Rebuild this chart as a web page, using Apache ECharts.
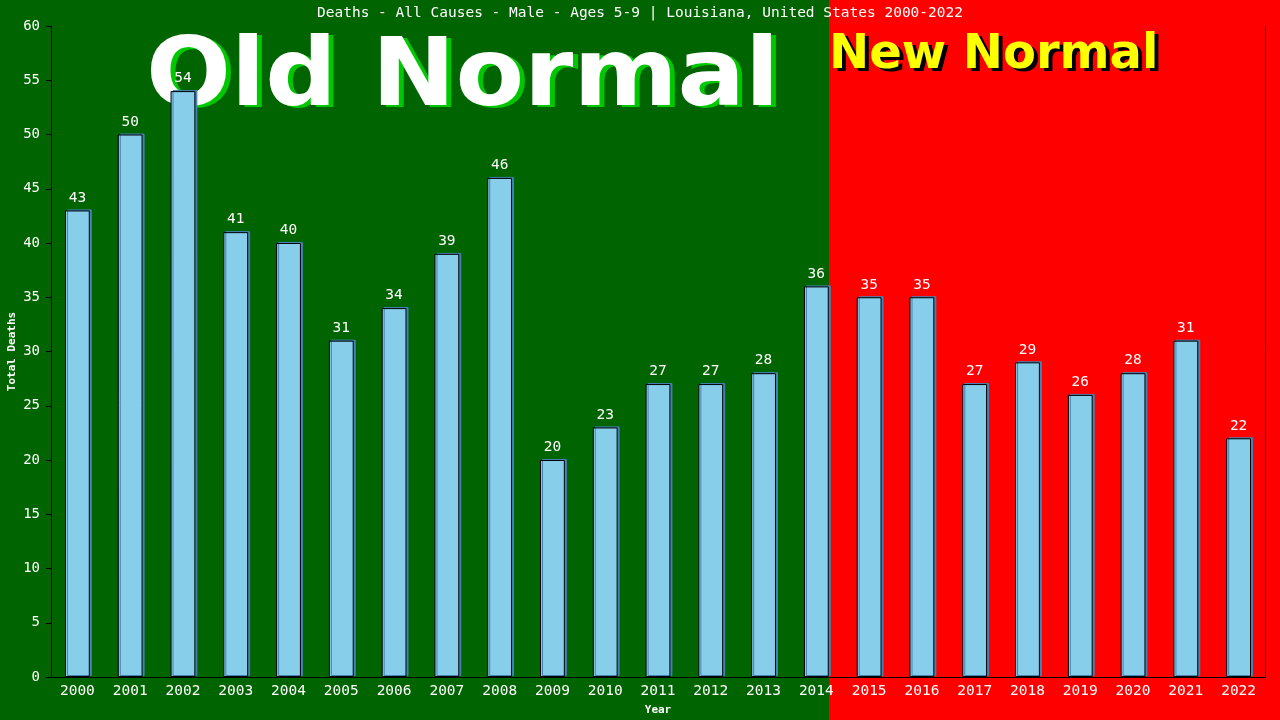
<!DOCTYPE html>
<html lang="en">
<head>
    <meta charset="utf-8">
    <title>Deaths - Louisiana</title>
    <script src="https://cdn.jsdelivr.net/npm/echarts@6/dist/echarts.min.js"></script>
    <style>
        html, body {margin: 0; padding: 0; background: #006400;}
        #main {width: 1280px; height: 720px;}
    </style>
</head>
<body>
<div id="main"></div>
<script type="text/javascript">
    // data
    var years = ['2000', '2001', '2002', '2003', '2004', '2005', '2006', '2007', '2008', '2009', '2010', '2011',
        '2012', '2013', '2014', '2015', '2016', '2017', '2018', '2019', '2020', '2021', '2022'];
    var deaths = [43, 50, 54, 41, 40, 31, 34, 39, 46, 20, 23, 27, 27, 28, 36, 35, 35, 27, 29, 26, 28, 31, 22];
    var lastOldYear = '2014';

    var mono = '"DejaVu Sans Mono", monospace';
    var myChart = echarts.init(document.getElementById('main'));

    var option = {
        animation: false,
        backgroundColor: '#006400',
        title: {
            text: 'Deaths - All Causes - Male - Ages 5-9 | Louisiana, United States 2000-2022',
            left: 'center', top: 1,
            textStyle: {color: '#fff', fontFamily: mono, fontSize: 14.5, fontWeight: 'normal'}
        },
        grid: {left: 51, right: 15, top: 26, bottom: 43, outerBoundsMode: 'none', containLabel: false},
        xAxis: {
            type: 'category',
            data: years,
            name: 'Year',
            nameLocation: 'middle',
            nameGap: 28,
            nameTextStyle: {color: '#fff', fontFamily: mono, fontSize: 11, fontWeight: 'bold'},
            axisLine: {lineStyle: {color: '#000', width: 1}},
            axisTick: {show: false},
            axisLabel: {color: '#fff', fontFamily: mono, fontSize: 14.5, margin: 7}
        },
        yAxis: [
            {
                type: 'value',
                min: 0, max: 60, interval: 5,
                name: 'Total Deaths',
                nameLocation: 'middle',
                nameGap: 33,
                nameMoveOverlap: false,
                nameTextStyle: {color: '#fff', fontFamily: mono, fontSize: 11, fontWeight: 'bold'},
                axisLine: {show: true, lineStyle: {color: '#000', width: 1}},
                axisTick: {show: true, length: 5, lineStyle: {color: '#000'}},
                axisLabel: {color: '#fff', fontFamily: mono, fontSize: 14, margin: 11},
                splitLine: {show: false}
            },
            {
                type: 'value',
                min: 0, max: 60, interval: 5,
                position: 'right',
                axisLine: {show: true, lineStyle: {color: '#000', width: 1}},
                axisTick: {show: false},
                axisLabel: {show: false},
                splitLine: {show: false}
            }
        ],
        series: [
            {
                name: 'Deaths',
                type: 'bar',
                data: deaths,
                barWidth: '47%',
                z: 5,
                itemStyle: {
                    color: '#87ceeb',
                    borderColor: '#000',
                    borderWidth: 1,
                    shadowColor: '#4682b4',
                    shadowOffsetX: 2,
                    shadowOffsetY: -1,
                    shadowBlur: 0
                },
                label: {
                    show: true,
                    position: 'top',
                    distance: 5,
                    color: '#fff',
                    fontFamily: mono,
                    fontSize: 14.5
                }
            }
        ]
    };
    myChart.setOption(option);

    // red "new normal" area starts at the right edge of the last old-normal bar
    var centre = myChart.convertToPixel({xAxisIndex: 0}, lastOldYear);
    var band = myChart.convertToPixel({xAxisIndex: 0}, years[1]) - myChart.convertToPixel({xAxisIndex: 0}, years[0]);
    var edge = Math.round(centre + band * 0.235);

    var bigFont = 'bold 100px "DejaVu Sans"';
    var midFont = 'bold 48px "DejaVu Sans"';
    myChart.setOption({
        graphic: [
            {
                type: 'rect', z: -10, silent: true,
                shape: {x: edge, y: 0, width: 1280 - edge, height: 720},
                style: {fill: '#ff0000'}
            },
            {
                type: 'text', z: 1, silent: true, x: 151, y: 36, scaleY: 0.94,
                style: {text: 'Old Normal', font: bigFont, fill: '#00c800', verticalAlign: 'top'}
            },
            {
                type: 'text', z: 1, silent: true, x: 146, y: 34, scaleY: 0.94,
                style: {text: 'Old Normal', font: bigFont, fill: '#fff', verticalAlign: 'top'}
            },
            {
                type: 'text', z: 1, silent: true, x: 833, y: 35,
                style: {text: 'New Normal', font: midFont, fill: '#000', verticalAlign: 'top'}
            },
            {
                type: 'text', z: 1, silent: true, x: 829, y: 32,
                style: {text: 'New Normal', font: midFont, fill: '#ffff00', verticalAlign: 'top'}
            }
        ]
    });
</script>
</body>
</html>
